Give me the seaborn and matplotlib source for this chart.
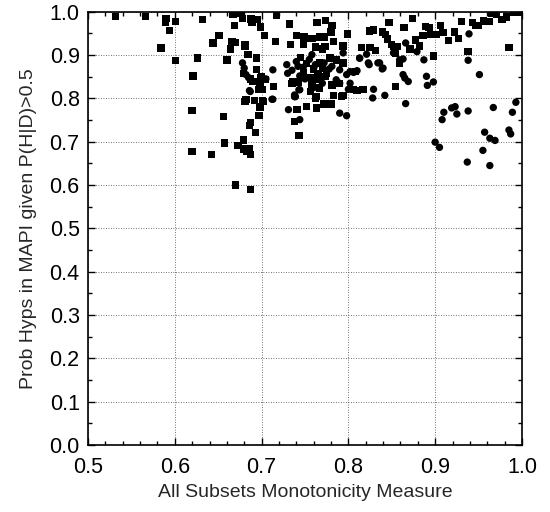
import seaborn as sns
import matplotlib.pyplot as plt
import matplotlib.ticker as mticker
import pandas as pd
import numpy as np

# square markers
sq_x = [0.532, 0.566, 0.590, 0.589, 0.594, 0.584, 0.601, 0.601, 0.632, 0.626,
        0.621, 0.620, 0.620, 0.642, 0.644, 0.651, 0.656, 0.657, 0.660, 0.664,
        0.666, 0.670, 0.669, 0.667, 0.672, 0.677, 0.678, 0.670, 0.687, 0.681,
        0.684, 0.688, 0.689, 0.695, 0.699, 0.703, 0.694, 0.694, 0.679, 0.687,
        0.690, 0.699, 0.698, 0.697, 0.701, 0.704, 0.682, 0.692, 0.701, 0.698,
        0.697, 0.687, 0.686, 0.693, 0.679, 0.673, 0.679, 0.683, 0.686, 0.687,
        0.714, 0.717, 0.716, 0.732, 0.733, 0.740, 0.736, 0.741, 0.738, 0.743,
        0.750, 0.749, 0.748, 0.759, 0.764, 0.767, 0.772, 0.774, 0.781, 0.780,
        0.783, 0.762, 0.770, 0.794, 0.799, 0.815, 0.825, 0.831, 0.824, 0.829,
        0.839, 0.843, 0.845, 0.847, 0.852, 0.856, 0.864, 0.871, 0.874, 0.877,
        0.882, 0.886, 0.889, 0.893, 0.895, 0.901, 0.906, 0.909, 0.915, 0.922,
        0.927, 0.930, 0.943, 0.947, 0.950, 0.956, 0.962, 0.965, 0.971, 0.977,
        0.982, 0.990, 0.996, 0.985, 0.938, 0.898, 0.854, 0.817, 0.810, 0.794,
        0.783, 0.763, 0.771, 0.780, 0.763, 0.740, 0.808, 0.806, 0.792, 0.762,
        0.773, 0.850, 0.854, 0.767, 0.779, 0.786, 0.794, 0.765, 0.773, 0.767,
        0.781, 0.790, 0.681, 0.685, 0.700, 0.681, 0.702, 0.752, 0.735, 0.756,
        0.762, 0.745, 0.752, 0.760, 0.748, 0.756, 0.765, 0.742, 0.770, 0.775,
        0.758, 0.859]
sq_y = [0.989, 0.989, 0.984, 0.976, 0.957, 0.916, 0.977, 0.888, 0.982, 0.893,
        0.852, 0.772, 0.677, 0.670, 0.928, 0.945, 0.758, 0.697, 0.889, 0.914,
        0.930, 0.929, 0.968, 0.993, 0.997, 0.997, 0.985, 0.600, 0.589, 0.921,
        0.902, 0.983, 0.975, 0.982, 0.965, 0.945, 0.893, 0.866, 0.858, 0.845,
        0.839, 0.848, 0.831, 0.820, 0.820, 0.843, 0.797, 0.795, 0.794, 0.780,
        0.760, 0.744, 0.737, 0.721, 0.704, 0.691, 0.683, 0.677, 0.684, 0.670,
        0.828, 0.991, 0.931, 0.972, 0.924, 0.945, 0.839, 0.774, 0.747, 0.714,
        0.939, 0.942, 0.925, 0.938, 0.975, 0.942, 0.942, 0.980, 0.968, 0.953,
        0.931, 0.918, 0.914, 0.921, 0.949, 0.918, 0.918, 0.910, 0.956, 0.958,
        0.953, 0.948, 0.937, 0.975, 0.920, 0.920, 0.964, 0.914, 0.984, 0.935,
        0.921, 0.945, 0.966, 0.964, 0.948, 0.948, 0.968, 0.952, 0.933, 0.953,
        0.939, 0.978, 0.975, 0.968, 0.968, 0.979, 0.978, 0.997, 0.993, 0.982,
        0.988, 0.998, 0.998, 0.918, 0.908, 0.898, 0.828, 0.821, 0.818, 0.806,
        0.807, 0.804, 0.787, 0.787, 0.778, 0.775, 0.862, 0.820, 0.804, 0.920,
        0.920, 0.924, 0.905, 0.882, 0.893, 0.889, 0.882, 0.843, 0.851, 0.824,
        0.831, 0.835, 0.924, 0.901, 0.851, 0.793, 0.793, 0.781, 0.835, 0.816,
        0.801, 0.895, 0.880, 0.868, 0.860, 0.848, 0.856, 0.838, 0.870, 0.858,
        0.832, 0.882]

# circle markers
ci_x = [0.678, 0.680, 0.685, 0.686, 0.705, 0.713, 0.712, 0.729, 0.730, 0.738,
        0.731, 0.743, 0.742, 0.739, 0.744, 0.790, 0.798, 0.829, 0.828, 0.842,
        0.866, 0.866, 0.852, 0.863, 0.865, 0.869, 0.879, 0.887, 0.890, 0.891,
        0.898, 0.900, 0.905, 0.908, 0.910, 0.919, 0.923, 0.925, 0.938, 0.938,
        0.939, 0.951, 0.937, 0.955, 0.957, 0.963, 0.963, 0.969, 0.967, 0.985,
        0.987, 0.989, 0.993, 0.821, 0.824, 0.834, 0.839, 0.813, 0.806, 0.810,
        0.800, 0.790, 0.682, 0.687, 0.713, 0.744, 0.738, 0.758, 0.760, 0.781,
        0.790, 0.798, 0.813, 0.823, 0.836, 0.840, 0.802, 0.794, 0.786, 0.802,
        0.740, 0.748, 0.755, 0.762, 0.750, 0.768, 0.744, 0.772, 0.778, 0.760,
        0.770, 0.735, 0.859, 0.863]
ci_y = [0.882, 0.870, 0.848, 0.818, 0.845, 0.866, 0.798, 0.878, 0.858, 0.804,
        0.774, 0.820, 0.874, 0.804, 0.751, 0.766, 0.760, 0.821, 0.801, 0.807,
        0.788, 0.928, 0.905, 0.855, 0.847, 0.839, 0.908, 0.889, 0.851, 0.830,
        0.838, 0.699, 0.687, 0.751, 0.768, 0.778, 0.781, 0.764, 0.771, 0.888,
        0.949, 0.855, 0.653, 0.680, 0.722, 0.645, 0.708, 0.703, 0.779, 0.727,
        0.718, 0.768, 0.791, 0.902, 0.878, 0.882, 0.868, 0.893, 0.860, 0.864,
        0.821, 0.835, 0.855, 0.816, 0.798, 0.820, 0.808, 0.901, 0.870, 0.874,
        0.866, 0.855, 0.893, 0.882, 0.882, 0.870, 0.862, 0.905, 0.843, 0.835,
        0.885, 0.872, 0.890, 0.878, 0.845, 0.845, 0.852, 0.882, 0.868, 0.825,
        0.835, 0.865, 0.889, 0.891]

df = pd.DataFrame({
    "x": sq_x + ci_x,
    "y": sq_y + ci_y,
    "kind": ["sq"] * len(sq_x) + ["ci"] * len(ci_x),
})

sns.set_style("ticks")
plt.rcParams['font.family'] = ['Liberation Sans', 'DejaVu Sans']

fig = plt.figure(figsize=(5.5, 5.12), dpi=100)
ax = fig.add_axes([0.16, 0.131, 0.789, 0.846])

sns.scatterplot(data=df, x="x", y="y", style="kind",
                markers={"sq": "s", "ci": "o"}, color="black",
                s=28, linewidth=0, edgecolor="black", legend=False, ax=ax)

ax.set_xlim(0.5, 1.0)
ax.set_ylim(0.0, 1.0)
ax.xaxis.set_major_locator(mticker.MultipleLocator(0.1))
ax.xaxis.set_minor_locator(mticker.MultipleLocator(0.02))
ax.yaxis.set_major_locator(mticker.MultipleLocator(0.1))
ax.yaxis.set_minor_locator(mticker.MultipleLocator(0.05))
ax.xaxis.set_major_formatter(mticker.FormatStrFormatter('%.1f'))
ax.yaxis.set_major_formatter(mticker.FormatStrFormatter('%.1f'))

ax.grid(True, which="major", linestyle=(0, (1, 2)), color="#444444", linewidth=0.6)
ax.tick_params(which="both", direction="in", top=True, right=True,
               labelsize=15.5, colors="black", width=1)
ax.tick_params(which="major", length=5)
ax.tick_params(which="minor", length=3)
ax.tick_params(axis="x", which="major", pad=9)
ax.tick_params(axis="y", which="major", pad=6)
for sp in ax.spines.values():
    sp.set_color("black")
    sp.set_linewidth(1.2)

ax.set_xlabel("All Subsets Monotonicity Measure", fontsize=14, labelpad=4)
ax.set_ylabel("Prob Hyps in MAPI given P(H|D)>0.5", fontsize=14, labelpad=9)

fig.savefig("out.png", dpi=100)
